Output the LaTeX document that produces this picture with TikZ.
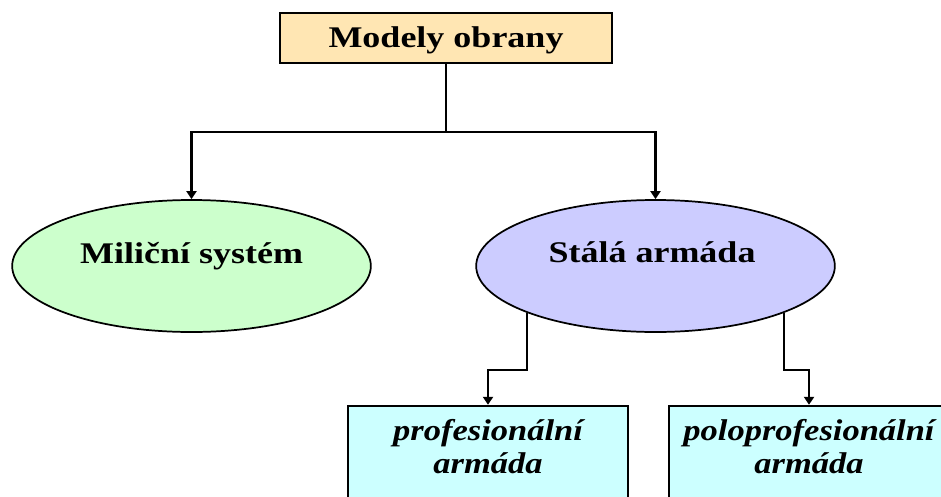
\documentclass[tikz,border=0pt]{standalone}
\usepackage{fontspec}
\setmainfont{Liberation Serif}
\newfontfamily\headfont[FakeStretch=1.2]{Liberation Serif Bold}
\newfontfamily\subfont[FakeStretch=1.15]{Liberation Serif Bold Italic}
\usetikzlibrary{shapes.geometric,arrows.meta}

\definecolor{headfill}{HTML}{FFE6B3}
\definecolor{milfill}{HTML}{CCFFCC}
\definecolor{stafill}{HTML}{CCCCFF}
\definecolor{subfill}{HTML}{CCFFFF}

\tikzset{
  headbox/.style={draw=black, line width=1.3pt, fill=headfill, rectangle,
    inner sep=0pt, minimum width=249pt, minimum height=37.5pt},
  oval/.style={draw=black, line width=1.3pt, ellipse, inner sep=0pt,
    minimum width=269pt, minimum height=99pt},
  subbox/.style={draw=black, line width=1.3pt, fill=subfill, rectangle,
    inner sep=0pt, minimum width=210pt, minimum height=86pt},
  bigtext/.style={font=\headfont\fontsize{22.5}{25}\selectfont, inner sep=0pt},
  smalltext/.style={font=\subfont\fontsize{22.5}{24.75}\selectfont,
    align=center, inner sep=0pt},
  link/.style={line width=2pt, draw=black},
  arr/.style={link, -{Triangle[width=7.5pt,length=6pt]}},
}

\begin{document}
\begin{tikzpicture}[x=0.75pt, y=-0.75pt]
  \useasboundingbox (0,0) rectangle (941,496);
  \clip (0,0) rectangle (941,496);

  % boxes and ovals
  \node[headbox] (top) at (446,38) {};
  \node[bigtext, anchor=base] (toptxt) at (446,47) {Modely obrany};

  \node[oval, fill=milfill] (mil) at (191.5,266) {};
  \node[bigtext, anchor=base] (miltxt) at (191.5,263) {Miliční systém};

  \node[oval, fill=stafill] (sta) at (655.5,266) {};
  \node[bigtext, anchor=base] (statxt) at (652,262) {Stálá armáda};

  \node[subbox] (prof) at (488,463) {};
  \node[smalltext] (proftxt) at (488,447) {profesionální\\armáda};

  \node[subbox] (polo) at (809,463) {};
  \node[smalltext] (polotxt) at (809,447) {poloprofesionální\\armáda};

  % connectors
  \coordinate (hub) at (446,132);
  \coordinate (lvl) at (0,370);
  \draw[link] (top.south) -- (hub);
  \draw[arr] (hub) -| (mil.north);
  \draw[arr] (hub) -| (sta.north);
  \draw[arr] (sta.200.5) -- (sta.200.5 |- lvl) -| (prof.north);
  \draw[arr] (sta.-20.5) -- (sta.-20.5 |- lvl) -| (polo.north);
\end{tikzpicture}
\end{document}
